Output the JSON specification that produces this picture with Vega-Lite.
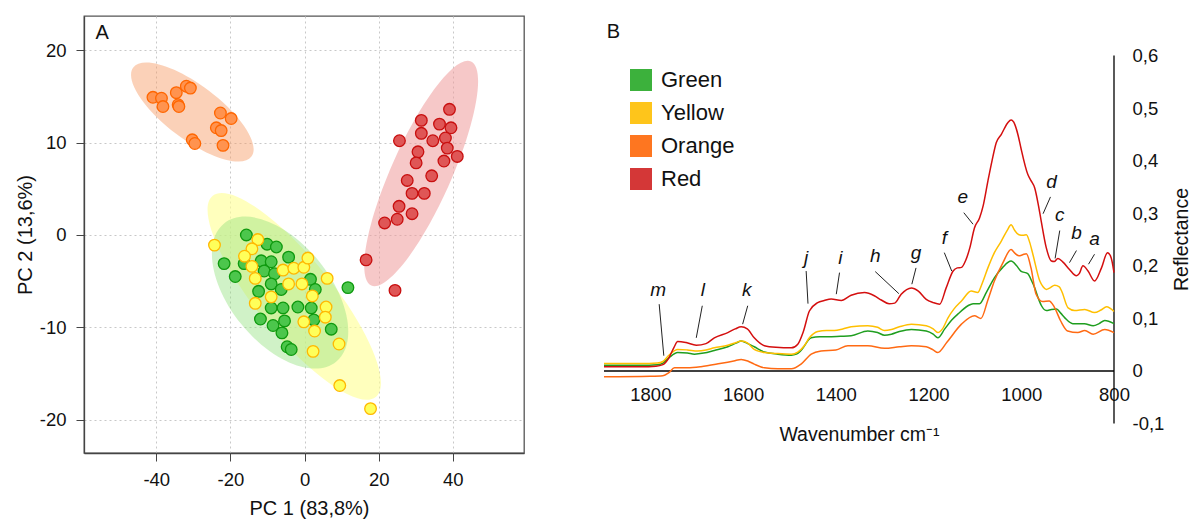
{
 "$schema": "https://vega.github.io/schema/vega-lite/v6.json",
 "padding": {"left": 14, "top": 15, "right": 0, "bottom": 0},
 "background": "white",
 "config": {
  "font": "Liberation Sans",
  "axis": {"labelFontSize": 18.5, "titleFontSize": 20, "titleFontWeight": "normal", "labelColor": "#111", "titleColor": "#111", "labelFlush": false, "labelOverlap": false},
  "legend": {"labelFont": "Liberation Sans"}
 },
 "spacing": 76,
 "datasets": {
  "ell": [
   {"g": "Yellow", "pc1": -2.78, "pc2": -6.65},
   {"g": "Green", "pc1": -6.6, "pc2": -6.24},
   {"g": "Orange", "pc1": -30.27, "pc2": 13.3},
   {"g": "Red", "pc1": 31.46, "pc2": 6.65}
  ],
  "pca": [
   {"g":"Orange","pc1":-40.9,"pc2":14.9},{"g":"Orange","pc1":-38.6,"pc2":14.8},{"g":"Orange","pc1":-38.2,"pc2":13.9},{"g":"Orange","pc1":-34.6,"pc2":15.4},{"g":"Orange","pc1":-34.1,"pc2":14.1},{"g":"Orange","pc1":-33.9,"pc2":13.9},{"g":"Orange","pc1":-31.9,"pc2":16.1},{"g":"Orange","pc1":-30.8,"pc2":15.9},{"g":"Orange","pc1":-22.7,"pc2":13.2},{"g":"Orange","pc1":-19.8,"pc2":12.6},{"g":"Orange","pc1":-23.8,"pc2":11.6},{"g":"Orange","pc1":-22.5,"pc2":11.3},{"g":"Orange","pc1":-30.3,"pc2":10.3},{"g":"Orange","pc1":-29.6,"pc2":9.9},{"g":"Orange","pc1":-22.0,"pc2":9.7},
   {"g":"Red","pc1":39.1,"pc2":13.6},{"g":"Red","pc1":31.5,"pc2":12.4},{"g":"Red","pc1":36.4,"pc2":12.0},{"g":"Red","pc1":39.5,"pc2":11.6},{"g":"Red","pc1":31.5,"pc2":11.0},{"g":"Red","pc1":34.6,"pc2":10.2},{"g":"Red","pc1":38.0,"pc2":10.5},{"g":"Red","pc1":25.6,"pc2":10.2},{"g":"Red","pc1":38.5,"pc2":9.4},{"g":"Red","pc1":30.6,"pc2":9.0},{"g":"Red","pc1":41.2,"pc2":8.5},{"g":"Red","pc1":30.1,"pc2":7.8},{"g":"Red","pc1":37.6,"pc2":8.0},{"g":"Red","pc1":34.3,"pc2":6.4},{"g":"Red","pc1":27.7,"pc2":5.9},{"g":"Red","pc1":29.0,"pc2":4.5},{"g":"Red","pc1":32.3,"pc2":4.5},{"g":"Red","pc1":25.5,"pc2":3.1},{"g":"Red","pc1":29.0,"pc2":2.3},{"g":"Red","pc1":25.0,"pc2":1.7},{"g":"Red","pc1":21.6,"pc2":1.3},{"g":"Red","pc1":16.6,"pc2":-2.7},{"g":"Red","pc1":24.4,"pc2":-6.0},
   {"g":"Green","pc1":-15.7,"pc2":0.0},{"g":"Green","pc1":-10.1,"pc2":-1.0},{"g":"Green","pc1":-7.6,"pc2":-1.3},{"g":"Green","pc1":-21.7,"pc2":-3.1},{"g":"Green","pc1":-16.3,"pc2":-3.1},{"g":"Green","pc1":-11.7,"pc2":-2.8},{"g":"Green","pc1":-9.0,"pc2":-2.9},{"g":"Green","pc1":-4.3,"pc2":-2.4},{"g":"Green","pc1":-18.7,"pc2":-4.5},{"g":"Green","pc1":-10.9,"pc2":-3.9},{"g":"Green","pc1":-8.1,"pc2":-4.2},{"g":"Green","pc1":-9.0,"pc2":-5.3},{"g":"Green","pc1":-12.4,"pc2":-6.1},{"g":"Green","pc1":-6.3,"pc2":-5.9},{"g":"Green","pc1":1.6,"pc2":-4.8},{"g":"Green","pc1":2.9,"pc2":-5.9},{"g":"Green","pc1":11.7,"pc2":-5.7},{"g":"Green","pc1":-9.0,"pc2":-7.9},{"g":"Green","pc1":-5.8,"pc2":-7.9},{"g":"Green","pc1":-1.8,"pc2":-7.8},{"g":"Green","pc1":1.8,"pc2":-7.9},{"g":"Green","pc1":-11.9,"pc2":-9.1},{"g":"Green","pc1":-8.5,"pc2":-9.8},{"g":"Green","pc1":-5.4,"pc2":-9.3},{"g":"Green","pc1":2.5,"pc2":-9.2},{"g":"Green","pc1":-6.1,"pc2":-10.6},{"g":"Green","pc1":7.2,"pc2":-10.2},{"g":"Green","pc1":-4.7,"pc2":-12.1},{"g":"Green","pc1":-3.6,"pc2":-12.4},
   {"g":"Yellow","pc1":-24.3,"pc2":-1.1},{"g":"Yellow","pc1":-12.6,"pc2":-0.5},{"g":"Yellow","pc1":-14.2,"pc2":-1.5},{"g":"Yellow","pc1":-16.2,"pc2":-2.3},{"g":"Yellow","pc1":-14.2,"pc2":-3.4},{"g":"Yellow","pc1":-13.3,"pc2":-4.7},{"g":"Yellow","pc1":-5.8,"pc2":-3.8},{"g":"Yellow","pc1":-2.9,"pc2":-3.6},{"g":"Yellow","pc1":-0.2,"pc2":-3.5},{"g":"Yellow","pc1":0.9,"pc2":-2.5},{"g":"Yellow","pc1":-4.3,"pc2":-5.3},{"g":"Yellow","pc1":-0.7,"pc2":-5.3},{"g":"Yellow","pc1":6.1,"pc2":-4.7},{"g":"Yellow","pc1":-9.0,"pc2":-6.7},{"g":"Yellow","pc1":2.1,"pc2":-6.6},{"g":"Yellow","pc1":-13.3,"pc2":-7.4},{"g":"Yellow","pc1":5.8,"pc2":-7.8},{"g":"Yellow","pc1":5.6,"pc2":-8.9},{"g":"Yellow","pc1":-0.2,"pc2":-9.4},{"g":"Yellow","pc1":2.7,"pc2":-10.4},{"g":"Yellow","pc1":9.3,"pc2":-11.8},{"g":"Yellow","pc1":2.3,"pc2":-12.6},{"g":"Yellow","pc1":9.5,"pc2":-16.3},{"g":"Yellow","pc1":17.8,"pc2":-18.8}
  ],
  "spec": [
   {"g":"Green","wn":1900,"r":0.011},{"g":"Green","wn":1820,"r":0.011},{"g":"Green","wn":1785,"r":0.012},{"g":"Green","wn":1773,"r":0.015},{"g":"Green","wn":1760,"r":0.025},{"g":"Green","wn":1741,"r":0.035},{"g":"Green","wn":1720,"r":0.034},{"g":"Green","wn":1705,"r":0.032},{"g":"Green","wn":1685,"r":0.034},{"g":"Green","wn":1662,"r":0.039},{"g":"Green","wn":1633,"r":0.046},{"g":"Green","wn":1615,"r":0.053},{"g":"Green","wn":1604,"r":0.057},{"g":"Green","wn":1590,"r":0.052},{"g":"Green","wn":1576,"r":0.046},{"g":"Green","wn":1554,"r":0.036},{"g":"Green","wn":1525,"r":0.032},{"g":"Green","wn":1496,"r":0.030},{"g":"Green","wn":1485,"r":0.032},{"g":"Green","wn":1475,"r":0.039},{"g":"Green","wn":1453,"r":0.063},{"g":"Green","wn":1435,"r":0.065},{"g":"Green","wn":1417,"r":0.065},{"g":"Green","wn":1390,"r":0.066},{"g":"Green","wn":1367,"r":0.067},{"g":"Green","wn":1331,"r":0.076},{"g":"Green","wn":1310,"r":0.073},{"g":"Green","wn":1295,"r":0.068},{"g":"Green","wn":1280,"r":0.070},{"g":"Green","wn":1263,"r":0.075},{"g":"Green","wn":1237,"r":0.079},{"g":"Green","wn":1205,"r":0.076},{"g":"Green","wn":1190,"r":0.070},{"g":"Green","wn":1180,"r":0.063},{"g":"Green","wn":1165,"r":0.080},{"g":"Green","wn":1150,"r":0.097},{"g":"Green","wn":1137,"r":0.108},{"g":"Green","wn":1115,"r":0.124},{"g":"Green","wn":1104,"r":0.128},{"g":"Green","wn":1090,"r":0.128},{"g":"Green","wn":1075,"r":0.150},{"g":"Green","wn":1058,"r":0.177},{"g":"Green","wn":1040,"r":0.197},{"g":"Green","wn":1022,"r":0.209},{"g":"Green","wn":1010,"r":0.200},{"g":"Green","wn":1001,"r":0.190},{"g":"Green","wn":986,"r":0.185},{"g":"Green","wn":978,"r":0.172},{"g":"Green","wn":971,"r":0.158},{"g":"Green","wn":964,"r":0.140},{"g":"Green","wn":957,"r":0.125},{"g":"Green","wn":946,"r":0.115},{"g":"Green","wn":935,"r":0.117},{"g":"Green","wn":924,"r":0.118},{"g":"Green","wn":915,"r":0.110},{"g":"Green","wn":906,"r":0.101},{"g":"Green","wn":889,"r":0.090},{"g":"Green","wn":864,"r":0.090},{"g":"Green","wn":845,"r":0.086},{"g":"Green","wn":832,"r":0.090},{"g":"Green","wn":820,"r":0.096},{"g":"Green","wn":800,"r":0.090},
   {"g":"Yellow","wn":1900,"r":0.014},{"g":"Yellow","wn":1820,"r":0.014},{"g":"Yellow","wn":1785,"r":0.015},{"g":"Yellow","wn":1773,"r":0.018},{"g":"Yellow","wn":1760,"r":0.030},{"g":"Yellow","wn":1741,"r":0.041},{"g":"Yellow","wn":1720,"r":0.040},{"g":"Yellow","wn":1698,"r":0.038},{"g":"Yellow","wn":1680,"r":0.040},{"g":"Yellow","wn":1662,"r":0.044},{"g":"Yellow","wn":1633,"r":0.049},{"g":"Yellow","wn":1615,"r":0.054},{"g":"Yellow","wn":1604,"r":0.057},{"g":"Yellow","wn":1590,"r":0.053},{"g":"Yellow","wn":1576,"r":0.041},{"g":"Yellow","wn":1554,"r":0.035},{"g":"Yellow","wn":1525,"r":0.033},{"g":"Yellow","wn":1496,"r":0.032},{"g":"Yellow","wn":1482,"r":0.036},{"g":"Yellow","wn":1468,"r":0.048},{"g":"Yellow","wn":1457,"r":0.063},{"g":"Yellow","wn":1439,"r":0.075},{"g":"Yellow","wn":1420,"r":0.077},{"g":"Yellow","wn":1403,"r":0.077},{"g":"Yellow","wn":1385,"r":0.080},{"g":"Yellow","wn":1367,"r":0.084},{"g":"Yellow","wn":1331,"r":0.086},{"g":"Yellow","wn":1310,"r":0.083},{"g":"Yellow","wn":1295,"r":0.077},{"g":"Yellow","wn":1280,"r":0.079},{"g":"Yellow","wn":1263,"r":0.084},{"g":"Yellow","wn":1237,"r":0.089},{"g":"Yellow","wn":1205,"r":0.086},{"g":"Yellow","wn":1190,"r":0.080},{"g":"Yellow","wn":1180,"r":0.073},{"g":"Yellow","wn":1170,"r":0.080},{"g":"Yellow","wn":1158,"r":0.101},{"g":"Yellow","wn":1145,"r":0.118},{"g":"Yellow","wn":1129,"r":0.133},{"g":"Yellow","wn":1108,"r":0.152},{"g":"Yellow","wn":1094,"r":0.149},{"g":"Yellow","wn":1085,"r":0.165},{"g":"Yellow","wn":1072,"r":0.196},{"g":"Yellow","wn":1058,"r":0.225},{"g":"Yellow","wn":1043,"r":0.247},{"g":"Yellow","wn":1030,"r":0.268},{"g":"Yellow","wn":1022,"r":0.278},{"g":"Yellow","wn":1014,"r":0.267},{"g":"Yellow","wn":1005,"r":0.259},{"g":"Yellow","wn":996,"r":0.258},{"g":"Yellow","wn":989,"r":0.259},{"g":"Yellow","wn":982,"r":0.245},{"g":"Yellow","wn":975,"r":0.222},{"g":"Yellow","wn":960,"r":0.171},{"g":"Yellow","wn":953,"r":0.160},{"g":"Yellow","wn":946,"r":0.155},{"g":"Yellow","wn":938,"r":0.158},{"g":"Yellow","wn":928,"r":0.163},{"g":"Yellow","wn":918,"r":0.160},{"g":"Yellow","wn":913,"r":0.152},{"g":"Yellow","wn":899,"r":0.120},{"g":"Yellow","wn":885,"r":0.115},{"g":"Yellow","wn":863,"r":0.117},{"g":"Yellow","wn":842,"r":0.111},{"g":"Yellow","wn":828,"r":0.116},{"g":"Yellow","wn":816,"r":0.122},{"g":"Yellow","wn":800,"r":0.113},
   {"g":"Orange","wn":1900,"r":-0.011},{"g":"Orange","wn":1800,"r":-0.010},{"g":"Orange","wn":1773,"r":-0.009},{"g":"Orange","wn":1760,"r":-0.003},{"g":"Orange","wn":1748,"r":0.006},{"g":"Orange","wn":1720,"r":0.006},{"g":"Orange","wn":1691,"r":0.008},{"g":"Orange","wn":1650,"r":0.014},{"g":"Orange","wn":1620,"r":0.019},{"g":"Orange","wn":1604,"r":0.022},{"g":"Orange","wn":1590,"r":0.019},{"g":"Orange","wn":1576,"r":0.013},{"g":"Orange","wn":1554,"r":0.006},{"g":"Orange","wn":1525,"r":0.004},{"g":"Orange","wn":1496,"r":0.004},{"g":"Orange","wn":1475,"r":0.013},{"g":"Orange","wn":1453,"r":0.032},{"g":"Orange","wn":1432,"r":0.038},{"g":"Orange","wn":1400,"r":0.040},{"g":"Orange","wn":1374,"r":0.048},{"g":"Orange","wn":1331,"r":0.048},{"g":"Orange","wn":1295,"r":0.043},{"g":"Orange","wn":1263,"r":0.046},{"g":"Orange","wn":1237,"r":0.048},{"g":"Orange","wn":1205,"r":0.046},{"g":"Orange","wn":1190,"r":0.040},{"g":"Orange","wn":1180,"r":0.035},{"g":"Orange","wn":1160,"r":0.055},{"g":"Orange","wn":1129,"r":0.089},{"g":"Orange","wn":1101,"r":0.105},{"g":"Orange","wn":1087,"r":0.100},{"g":"Orange","wn":1072,"r":0.135},{"g":"Orange","wn":1058,"r":0.171},{"g":"Orange","wn":1040,"r":0.205},{"g":"Orange","wn":1022,"r":0.231},{"g":"Orange","wn":1014,"r":0.224},{"g":"Orange","wn":1005,"r":0.219},{"g":"Orange","wn":997,"r":0.221},{"g":"Orange","wn":989,"r":0.223},{"g":"Orange","wn":979,"r":0.196},{"g":"Orange","wn":968,"r":0.146},{"g":"Orange","wn":954,"r":0.132},{"g":"Orange","wn":940,"r":0.133},{"g":"Orange","wn":929,"r":0.122},{"g":"Orange","wn":915,"r":0.095},{"g":"Orange","wn":900,"r":0.076},{"g":"Orange","wn":878,"r":0.073},{"g":"Orange","wn":863,"r":0.077},{"g":"Orange","wn":845,"r":0.070},{"g":"Orange","wn":820,"r":0.079},{"g":"Orange","wn":800,"r":0.073},
   {"g":"Red","wn":1900,"r":0.008},{"g":"Red","wn":1820,"r":0.008},{"g":"Red","wn":1788,"r":0.009},{"g":"Red","wn":1773,"r":0.012},{"g":"Red","wn":1760,"r":0.025},{"g":"Red","wn":1749,"r":0.045},{"g":"Red","wn":1741,"r":0.056},{"g":"Red","wn":1723,"r":0.054},{"g":"Red","wn":1701,"r":0.049},{"g":"Red","wn":1680,"r":0.052},{"g":"Red","wn":1662,"r":0.063},{"g":"Red","wn":1633,"r":0.073},{"g":"Red","wn":1617,"r":0.080},{"g":"Red","wn":1604,"r":0.084},{"g":"Red","wn":1591,"r":0.080},{"g":"Red","wn":1576,"r":0.063},{"g":"Red","wn":1554,"r":0.048},{"g":"Red","wn":1529,"r":0.045},{"g":"Red","wn":1496,"r":0.044},{"g":"Red","wn":1482,"r":0.051},{"g":"Red","wn":1470,"r":0.075},{"g":"Red","wn":1457,"r":0.114},{"g":"Red","wn":1439,"r":0.130},{"g":"Red","wn":1425,"r":0.134},{"g":"Red","wn":1410,"r":0.137},{"g":"Red","wn":1388,"r":0.134},{"g":"Red","wn":1367,"r":0.144},{"g":"Red","wn":1338,"r":0.149},{"g":"Red","wn":1317,"r":0.143},{"g":"Red","wn":1302,"r":0.135},{"g":"Red","wn":1285,"r":0.128},{"g":"Red","wn":1273,"r":0.129},{"g":"Red","wn":1259,"r":0.146},{"g":"Red","wn":1237,"r":0.158},{"g":"Red","wn":1222,"r":0.152},{"g":"Red","wn":1205,"r":0.136},{"g":"Red","wn":1190,"r":0.130},{"g":"Red","wn":1176,"r":0.127},{"g":"Red","wn":1162,"r":0.158},{"g":"Red","wn":1147,"r":0.190},{"g":"Red","wn":1138,"r":0.196},{"g":"Red","wn":1129,"r":0.197},{"g":"Red","wn":1120,"r":0.210},{"g":"Red","wn":1111,"r":0.234},{"g":"Red","wn":1101,"r":0.272},{"g":"Red","wn":1090,"r":0.291},{"g":"Red","wn":1082,"r":0.315},{"g":"Red","wn":1072,"r":0.361},{"g":"Red","wn":1063,"r":0.400},{"g":"Red","wn":1054,"r":0.434},{"g":"Red","wn":1043,"r":0.450},{"g":"Red","wn":1029,"r":0.472},{"g":"Red","wn":1022,"r":0.477},{"g":"Red","wn":1014,"r":0.469},{"g":"Red","wn":1006,"r":0.445},{"g":"Red","wn":1001,"r":0.425},{"g":"Red","wn":986,"r":0.374},{"g":"Red","wn":979,"r":0.362},{"g":"Red","wn":971,"r":0.348},{"g":"Red","wn":963,"r":0.315},{"g":"Red","wn":957,"r":0.285},{"g":"Red","wn":946,"r":0.234},{"g":"Red","wn":935,"r":0.209},{"g":"Red","wn":929,"r":0.208},{"g":"Red","wn":921,"r":0.214},{"g":"Red","wn":910,"r":0.207},{"g":"Red","wn":896,"r":0.193},{"g":"Red","wn":881,"r":0.181},{"g":"Red","wn":875,"r":0.185},{"g":"Red","wn":867,"r":0.200},{"g":"Red","wn":856,"r":0.190},{"g":"Red","wn":842,"r":0.171},{"g":"Red","wn":827,"r":0.196},{"g":"Red","wn":814,"r":0.225},{"g":"Red","wn":806,"r":0.215},{"g":"Red","wn":800,"r":0.187}
  ],
  "lbl": [
   {"t":"m","wn":1783,"r":0.143},{"t":"l","wn":1687,"r":0.143},{"t":"k","wn":1592,"r":0.143},{"t":"j","wn":1464,"r":0.204},{"t":"i","wn":1390,"r":0.204},{"t":"h","wn":1315,"r":0.208},{"t":"g","wn":1227,"r":0.212},{"t":"f","wn":1166,"r":0.241},{"t":"e","wn":1126,"r":0.320},{"t":"d","wn":935,"r":0.347},{"t":"c","wn":917,"r":0.286},{"t":"b","wn":881,"r":0.250},{"t":"a","wn":842,"r":0.240}
  ],
  "lead": [
   {"wn":1781,"wn2":1771,"r":0.127,"r2":0.029},{"wn":1688,"wn2":1701,"r":0.124,"r2":0.063},{"wn":1590,"wn2":1601,"r":0.124,"r2":0.089},{"wn":1464,"wn2":1460,"r":0.190,"r2":0.128},{"wn":1392,"wn2":1399,"r":0.187,"r2":0.146},{"wn":1315,"wn2":1264,"r":0.189,"r2":0.147},{"wn":1227,"wn2":1236,"r":0.196,"r2":0.165},{"wn":1166,"wn2":1150,"r":0.225,"r2":0.190},{"wn":1124,"wn2":1104,"r":0.301,"r2":0.279},{"wn":937,"wn2":953,"r":0.331,"r2":0.299},{"wn":917,"wn2":927,"r":0.267,"r2":0.214},{"wn":881,"wn2":896,"r":0.229,"r2":0.206},{"wn":842,"wn2":855,"r":0.222,"r2":0.203}
  ]
 },
 "hconcat": [
  {
   "width": 440, "height": 437,
   "view": {"stroke": "#555", "strokeWidth": 1.3},
   "encoding": {
    "x": {"field": "pc1", "type": "quantitative", "scale": {"domain": [-59.5, 59.2], "nice": false, "zero": false},
          "axis": {"values": [-40, -20, 0, 20, 40], "title": "PC 1 (83,8%)", "titleX": 225, "grid": true, "gridDash": [2, 3], "gridColor": "#c8c8c8", "domainColor": "#444", "domainWidth": 1.3, "tickColor": "#444", "tickSize": 8, "labelPadding": 9, "titlePadding": 10, "labelExpr": "'' + datum.value"}},
    "y": {"field": "pc2", "type": "quantitative", "scale": {"domain": [-23.6, 23.7], "nice": false, "zero": false},
          "axis": {"values": [-20, -10, 0, 10, 20], "title": "PC 2 (13,6%)", "grid": true, "gridDash": [2, 3], "gridColor": "#c8c8c8", "domainColor": "#444", "domainWidth": 1.3, "tickColor": "#444", "tickSize": 8, "labelPadding": 10, "titlePadding": 4, "labelExpr": "'' + datum.value"}}
   },
   "layer": [
    {"data": {"name": "ell"}, "transform": [{"filter": "datum.g == 'Yellow'"}],
     "mark": {"type": "point", "shape": "M1,0C1,0.1618,0.5523,0.293,0,0.293C-0.5523,0.293,-1,0.1618,-1,0C-1,-0.1618,-0.5523,-0.293,0,-0.293C0.5523,-0.293,1,-0.1618,1,0Z", "size": 67081, "angle": 51, "filled": true, "fill": "#ffff99", "opacity": 0.65, "strokeWidth": 0}},
    {"data": {"name": "ell"}, "transform": [{"filter": "datum.g == 'Green'"}],
     "mark": {"type": "point", "shape": "M1,0C1,0.3104,0.5523,0.562,0,0.562C-0.5523,0.562,-1,0.3104,-1,0C-1,-0.3104,-0.5523,-0.562,0,-0.562C0.5523,-0.562,1,-0.3104,1,0Z", "size": 31684, "angle": 51, "filled": true, "fill": "#8ee07a", "opacity": 0.42, "strokeWidth": 0}},
    {"data": {"name": "ell"}, "transform": [{"filter": "datum.g == 'Orange'"}],
     "mark": {"type": "point", "shape": "M1,0C1,0.2016,0.5523,0.365,0,0.365C-0.5523,0.365,-1,0.2016,-1,0C-1,-0.2016,-0.5523,-0.365,0,-0.365C0.5523,-0.365,1,-0.2016,1,0Z", "size": 21904, "angle": 37, "filled": true, "fill": "#f79a62", "opacity": 0.45, "strokeWidth": 0}},
    {"data": {"name": "ell"}, "transform": [{"filter": "datum.g == 'Red'"}],
     "mark": {"type": "point", "shape": "M1,0C1,0.1353,0.5523,0.245,0,0.245C-0.5523,0.245,-1,0.1353,-1,0C-1,-0.1353,-0.5523,-0.245,0,-0.245C0.5523,-0.245,1,-0.1353,1,0Z", "size": 60124, "angle": 294, "filled": true, "fill": "#ee9a9a", "opacity": 0.55, "strokeWidth": 0}},
    {"data": {"name": "pca"},
     "mark": {"type": "circle", "size": 135, "strokeWidth": 1.3, "opacity": 1},
     "encoding": {
      "fill": {"field": "g", "type": "nominal", "scale": {"domain": ["Green", "Yellow", "Orange", "Red"], "range": ["#4cc64c", "#ffff5a", "#ff934f", "#df5656"]}, "legend": null},
      "stroke": {"field": "g", "type": "nominal", "scale": {"domain": ["Green", "Yellow", "Orange", "Red"], "range": ["#0e990e", "#ffb800", "#ff6600", "#c80f0f"]}, "legend": null}
     }},
    {"data": {"values": [{"pc1": -54.6, "pc2": 21.84, "t": "A"}]},
     "mark": {"type": "text", "fontSize": 20, "align": "center", "baseline": "middle", "color": "#111"},
     "encoding": {"text": {"field": "t"}}}
   ]
  },
  {
   "width": 510, "height": 437,
   "view": {"stroke": null},
   "encoding": {
    "x": {"field": "wn", "type": "quantitative", "scale": {"domain": [800, 1900], "reverse": true, "nice": false, "zero": false},
          "axis": {"orient": "bottom", "offset": -82, "domain": false, "ticks": false, "tickSize": 0, "grid": false, "values": [1800, 1600, 1400, 1200, 1000, 800], "labelPadding": 14, "labelExpr": "'' + datum.value", "title": "Wavenumber cm⁻¹", "titleFontSize": 19.5, "titlePadding": 22}},
    "y": {"field": "r", "type": "quantitative", "scale": {"domain": [-0.156, 0.675], "nice": false, "zero": false},
          "axis": {"orient": "right", "domain": false, "ticks": false, "tickSize": 0, "grid": false, "values": [-0.1, 0, 0.1, 0.2, 0.3, 0.4, 0.5, 0.6], "labelPadding": 18, "labelAlign": "left", "labelExpr": "replace('' + datum.value, '.', ',')", "title": "Reflectance", "titleFontSize": 19.5, "titleAngle": 270, "titleX": 67, "titleY": 223, "titleAlign": "center", "titleBaseline": "middle"}}
   },
   "layer": [
    {"data": {"values": [{"wn": 1900, "wn2": 800, "r": 0}]},
     "mark": {"type": "rule", "color": "#000", "strokeWidth": 1.5},
     "encoding": {"x2": {"field": "wn2"}}},
    {"data": {"values": [{"wn": 800, "r": -0.1, "r2": 0.6}]},
     "mark": {"type": "rule", "color": "#000", "strokeWidth": 1.3},
     "encoding": {"y2": {"field": "r2"}}},
    {"data": {"name": "spec"},
     "mark": {"type": "line", "interpolate": "monotone", "strokeWidth": 1.5},
     "encoding": {
      "color": {"field": "g", "type": "nominal", "scale": {"domain": ["Green", "Yellow", "Orange", "Red"], "range": ["#1f9e1f", "#ffbf00", "#ff6a13", "#d40f0f"]},
                "legend": {"orient": "none", "legendX": 26, "legendY": 53, "title": null, "symbolType": "square", "symbolSize": 484, "symbolStrokeWidth": 0, "labelFontSize": 22, "labelColor": "#111", "rowPadding": 11, "labelOffset": 9, "padding": 0,
                           "encode": {"symbols": {"update": {"fill": {"signal": "datum.value == 'Green' ? '#3cb13c' : datum.value == 'Yellow' ? '#fec51b' : datum.value == 'Orange' ? '#fe7620' : '#d43737'"}, "strokeWidth": {"value": 0}, "opacity": {"value": 1}}}}}},
      "order": {"field": "wn", "sort": "descending"}
     }},
    {"data": {"name": "lead"},
     "mark": {"type": "rule", "color": "#222", "strokeWidth": 1},
     "encoding": {"x2": {"field": "wn2"}, "y2": {"field": "r2"}}},
    {"data": {"name": "lbl"},
     "mark": {"type": "text", "fontSize": 19, "fontStyle": "italic", "align": "center", "baseline": "alphabetic", "color": "#111"},
     "encoding": {"text": {"field": "t"}}},
    {"data": {"values": [{"wn": 1879.5, "r": 0.645, "t": "B"}]},
     "mark": {"type": "text", "fontSize": 20, "align": "center", "baseline": "middle", "color": "#111"},
     "encoding": {"text": {"field": "t"}}}
   ]
  }
 ],
 "resolve": {"scale": {"x": "independent", "y": "independent"}, "legend": {"color": "independent"}}
}
